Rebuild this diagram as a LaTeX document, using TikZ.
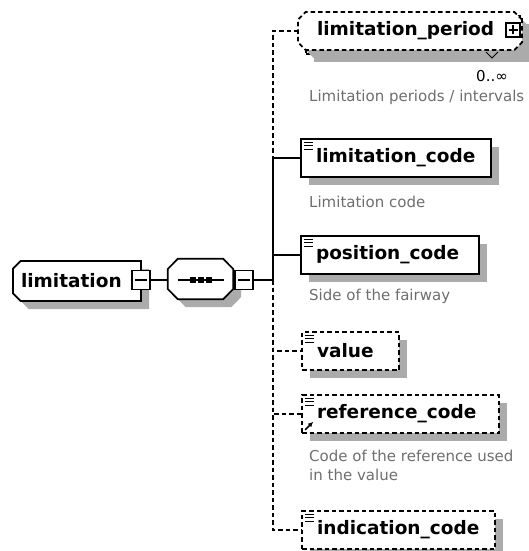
\documentclass[tikz,border=0pt]{standalone}
\usepackage{fontspec}
\setmainfont{DejaVu Sans}
\usetikzlibrary{arrows.meta,positioning,shapes.misc,shadows,calc}
\definecolor{xsdshadow}{HTML}{ABABAB}
\definecolor{xsddesc}{HTML}{6E6E6E}

\tikzset{
  elem/.style={draw, line width=1.7pt, fill=white, rectangle,
    font=\bfseries\fontsize{18.5}{20}\selectfont, minimum height=38pt,
    align=left, inner xsep=15pt, inner ysep=0pt,
    drop shadow={shadow xshift=8pt, shadow yshift=-8pt, fill=xsdshadow, opacity=1}},
  optdash/.style={dash pattern=on 4.5pt off 3pt},
  optelem/.style={elem, optdash},
  cplx/.style={chamfered rectangle, chamfered rectangle xsep=4pt,
    chamfered rectangle corners={north west,south west}},
  pmbox/.style={draw, line width=1.2pt, fill=white, minimum width=18pt, minimum height=19pt, inner sep=0pt},
  minus/.style={pmbox, path picture={
    \draw[line width=1.2pt] ([xshift=3pt]path picture bounding box.west) -- ([xshift=-3pt]path picture bounding box.east);}},
  plus/.style={pmbox, minimum width=14pt, minimum height=14pt, path picture={
    \draw[line width=1.2pt] ([xshift=2.5pt]path picture bounding box.west) -- ([xshift=-2.5pt]path picture bounding box.east);
    \draw[line width=1.2pt] ([yshift=-2.5pt]path picture bounding box.north) -- ([yshift=2.5pt]path picture bounding box.south);}},
  conn/.style={line width=1.7pt},
  optconn/.style={conn, optdash},
  desc/.style={anchor=west, text=xsddesc, font=\fontsize{15}{19}\selectfont, align=left, inner sep=0pt},
}

% three-line marker of a simple-type element
\newcommand\simplemark[1]{%
  \foreach \d in {4,7.5,11}
    \draw[line width=1.2pt] ($(#1.north west)+(4pt,-\d pt)$) -- ++(9pt,0pt);
}

\begin{document}
\begin{tikzpicture}[x=1pt, y=-1pt]
\useasboundingbox (0,0) rectangle (528,551);

% root element and sequence compositor
\node[elem, cplx, minimum width=128pt, minimum height=40pt, text width=112pt, inner xsep=4pt] (lim) at (77,281) {limitation};
\node[minus] (limmin) at (141,280) {};
\node[minimum width=65pt, minimum height=40pt, inner sep=0pt] (seq) at (200.5,279) {};
\fill[xsdshadow] ($(seq.west)+(8,-2)$) -- ($(seq.north west)+(18,8)$) -- ($(seq.north east)+(-2,8)$)
  -- ($(seq.east)+(8,-2)$) -- ($(seq.east)+(8,18)$) -- ($(seq.south east)+(-2,8)$)
  -- ($(seq.south west)+(18,8)$) -- ($(seq.west)+(8,18)$) -- cycle;
\filldraw[fill=white, line width=1.7pt] ($(seq.west)+(0,-10)$) -- ($(seq.north west)+(10,0)$) -- ($(seq.north east)+(-10,0)$)
  -- ($(seq.east)+(0,-10)$) -- ($(seq.east)+(0,10)$) -- ($(seq.south east)+(-10,0)$)
  -- ($(seq.south west)+(10,0)$) -- ($(seq.west)+(0,10)$) -- cycle;
\node[minus] (seqmin) at (244,280) {};
\draw[line width=1.4pt] ($(seq.center)+(-23,1)$) -- ($(seq.center)+(23,1)$);
\foreach \dx in {-8,0,8}
  \fill ($(seq.center)+(\dx,1)$) +(-3,-3) rectangle +(3,3);
\coordinate (bus) at (273,280);

\draw[conn] (limmin.east) -- (seq.west |- limmin.east);
\draw[conn] (seqmin.east) -- (bus);

% children
\node[optelem, minimum width=216pt, text width=186pt] (lpback) at (414,35) {\phantom{limitation\_period}};
\node[optelem, chamfered rectangle, chamfered rectangle xsep=4pt, minimum width=208pt, text width=186pt] (lp) at (410,31) {limitation\_period};
\node[plus] (lpplus) at (513,30) {};
\node[elem, minimum width=190pt, text width=160pt] (lc) at (396,158) {limitation\_code};
\node[elem, minimum width=178pt, text width=148pt] (pc) at (390,255) {position\_code};
\node[optelem, minimum width=97pt, text width=67pt] (val) at (350.5,351) {value};
\node[optelem, minimum width=197pt, text width=167pt] (rc) at (400.5,414) {reference\_code};
\node[optelem, minimum width=193pt, text width=163pt] (ic) at (398.5,530) {indication\_code};

\simplemark{lc}
\simplemark{pc}
\simplemark{val}
\simplemark{rc}
\simplemark{ic}
\draw[line width=1.6pt, -{Latex[length=5pt,width=5pt]}] ($(rc.south west)+(4pt,4pt)$) -- ++(8pt,8pt);

\draw[optconn] (bus) |- (lp.west);
\draw[conn] (bus) |- (lc.west);
\draw[conn] (bus) |- (pc.west);
\draw[optconn] (bus) |- (val.west);
\draw[optconn] (bus) |- (rc.west);
\draw[optconn] (bus) |- (ic.west);

% occurrence and annotations
\draw[line width=0.9pt] (486,52) -- (492,58) -- (498,52);
\node[anchor=east, font=\fontsize{15}{19}\selectfont, inner sep=0pt] (lpocc) at (508,76) {0..∞};
\node[desc] (lpdesc) at (309,97) {Limitation periods / intervals};
\node[desc] (lcdesc) at (309,202) {Limitation code};
\node[desc] (pcdesc) at (309,296) {Side of the fairway};
\node[desc, anchor=north west] (rcdesc) at (309,450) {Code of the reference used\\in the value};

\end{tikzpicture}
\end{document}
